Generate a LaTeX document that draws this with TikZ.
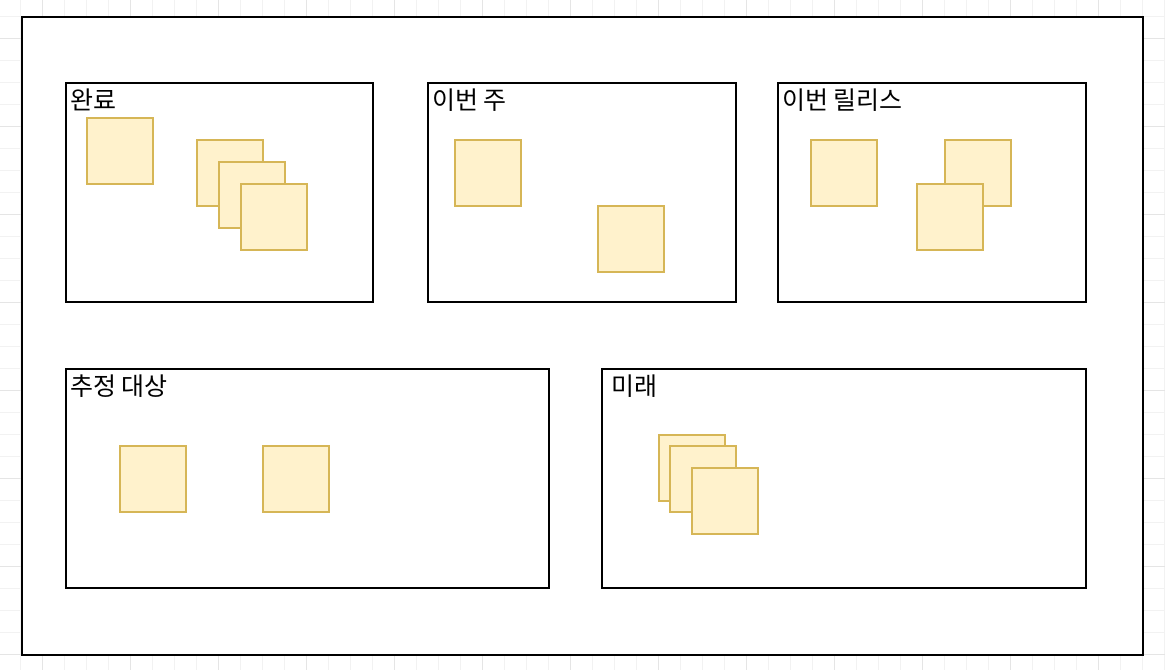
\documentclass[tikz,border=0pt]{standalone}
\usepackage{fontspec}
\setmainfont{Noto Sans CJK KR}
\usepackage{tikz}
\usetikzlibrary{positioning}
\definecolor{cardfill}{HTML}{FFF2CC}
\definecolor{cardline}{HTML}{D6B656}

\begin{document}
\begin{tikzpicture}[x=1pt,y=-1pt,
 font=\fontsize{25}{30}\selectfont,
 minorgrid/.style={draw=gray!10,line width=1pt},
 majorgrid/.style={draw=gray!20,line width=1pt},
 board/.style={draw=black,fill=white,line width=2pt},
 lane/.style={draw=black,line width=2pt,fill=white},
 lanelbl/.style={anchor=north west,inner sep=0pt},
 card/.style={draw=cardline,fill=cardfill,line width=1.6pt,minimum size=66pt,inner sep=0pt}]
\useasboundingbox (0,0) rectangle (1165,670);
% grid behind the board
\foreach \i in {-5,...,47} \draw[minorgrid] (130+22*\i,0) -- (130+22*\i,670);
\foreach \j in {-1,...,31} \draw[minorgrid] (0,38+22*\j) -- (1165,38+22*\j);
\foreach \i in {-1,...,12} \draw[majorgrid] (130+88*\i,0) -- (130+88*\i,670);
\foreach \j in {-1,...,7} \draw[majorgrid] (0,38+88*\j) -- (1165,38+88*\j);
\draw[board] (22,17) rectangle (1143,655);
% lanes
\draw[lane] (66,83) rectangle (373,302);
\node[lanelbl] (l1) at (70,89) {완료};
\draw[lane] (428,83) rectangle (736,302);
\node[lanelbl] (l2) at (432,89) {이번 주};
\draw[lane] (778,83) rectangle (1086,302);
\node[lanelbl] (l3) at (782,89) {이번 릴리스};
\draw[lane] (66,369) rectangle (549,588);
\node[lanelbl] (l4) at (70,375) {추정 대상};
\draw[lane] (602,369) rectangle (1086,588);
\node[lanelbl] (l5) at (611,375) {미래};
% cards
\node[card] (c1) at (120,151) {};
\node[card] (c2) at (230,173) {};
\node[card] (c3) at (252,195) {};
\node[card] (c4) at (274,217) {};
\node[card] (c5) at (488,173) {};
\node[card] (c6) at (631,239) {};
\node[card] (c7) at (844,173) {};
\node[card] (c8) at (978,173) {};
\node[card] (c9) at (950,217) {};
\node[card] (c10) at (153,479) {};
\node[card] (c11) at (296,479) {};
\node[card] (c12) at (692,468) {};
\node[card] (c13) at (703,479) {};
\node[card] (c14) at (725,501) {};
\end{tikzpicture}
\end{document}
